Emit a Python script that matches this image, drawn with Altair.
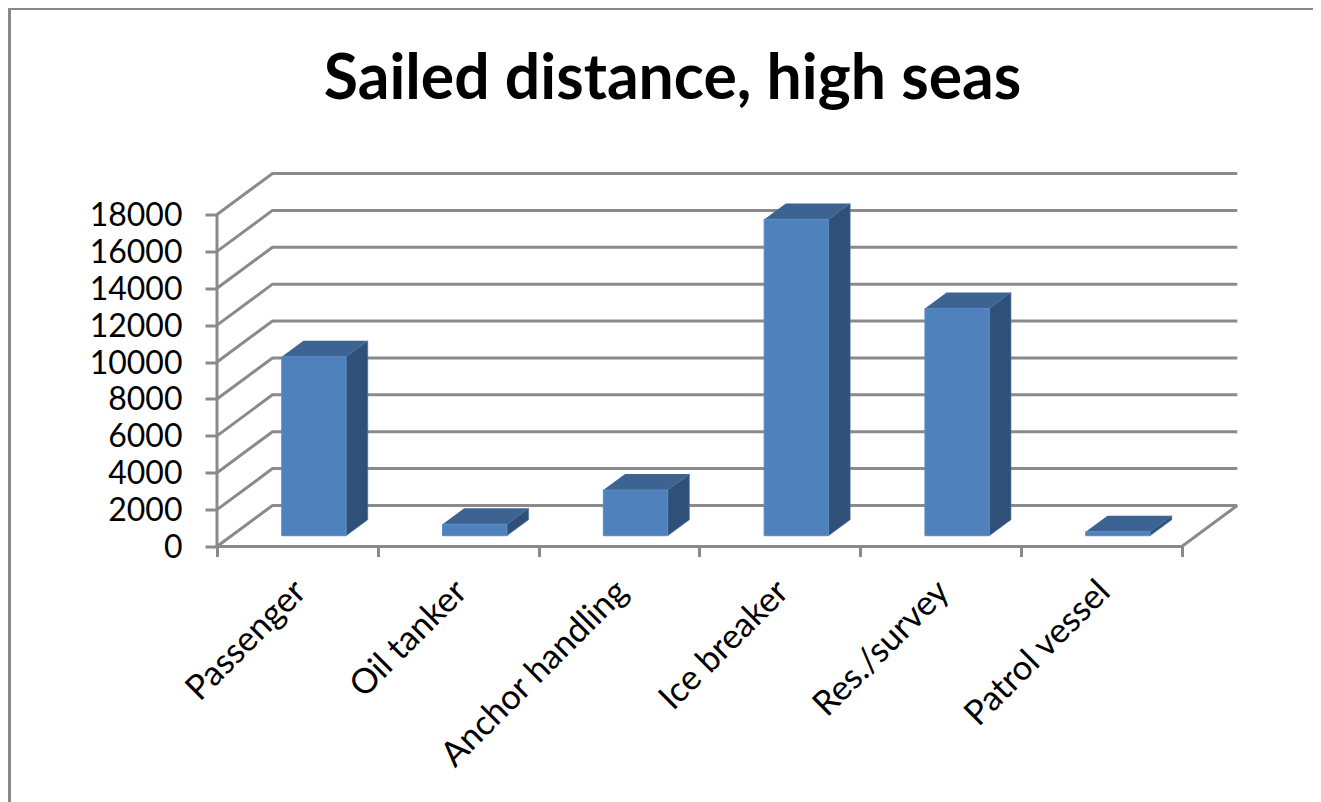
import altair as alt
import pandas as pd

categories = ["Passenger", "Oil tanker", "Anchor handling", "Ice breaker", "Res./survey", "Patrol vessel"]
values = [9700, 620, 2480, 17150, 12320, 220]
y_ticks = list(range(0, 18001, 2000))
x_ticks = list(range(0, 7))

GRID = "#8a8a8a"
FRONT = "#4f81bd"
TOP = "#3c6391"
SIDE = "#2f5179"

# oblique-projection constants, in data units
wall_dx, wall_dy = 0.345, 2223
bar_dx, bar_dy = 0.135, 867
shift_x, shift_y = 0.1026, 585
half_w = 0.2

x_scale = alt.Scale(domain=[0, 6.3495], nice=False, zero=False)
y_scale = alt.Scale(domain=[0, 20711], nice=False, zero=False)

lines = []
for v in y_ticks:
    k = f"g{v}"
    lines += [
        dict(k=k, o=0, x=0, y=v),
        dict(k=k, o=1, x=wall_dx, y=v + wall_dy),
        dict(k=k, o=2, x=6 + wall_dx, y=v + wall_dy),
    ]
lines += [dict(k="floor", o=0, x=0, y=0), dict(k="floor", o=1, x=6, y=0),
          dict(k="floor", o=2, x=6 + wall_dx, y=wall_dy)]
lines += [dict(k="yaxis", o=0, x=0, y=0), dict(k="yaxis", o=1, x=0, y=18000)]
lines_df = pd.DataFrame(lines)

front, side, top = [], [], []
for i, (c, v) in enumerate(zip(categories, values)):
    x0 = i + 0.5 + shift_x - half_w
    x1 = i + 0.5 + shift_x + half_w
    b = shift_y
    t = shift_y + v
    front.append(dict(c=c, x=x0, x2=x1, y=b, y2=t))
    side += [dict(c=c, x=x1, y=b, y2=t), dict(c=c, x=x1 + bar_dx, y=b + bar_dy, y2=t + bar_dy)]
    top += [dict(c=c, x=x0, y=t, y2=t), dict(c=c, x=x0 + bar_dx, y=t + bar_dy, y2=t),
            dict(c=c, x=x1, y=t + bar_dy, y2=t), dict(c=c, x=x1 + bar_dx, y=t + bar_dy, y2=t + bar_dy)]

labels_df = pd.DataFrame({"c": categories, "x": [i + 0.5 for i in range(6)], "y": [0] * 6})

X = alt.X("x:Q", scale=x_scale, title=None)
Y = alt.Y("y:Q", scale=y_scale, title=None)

grid = alt.Chart(lines_df).mark_line(color=GRID, strokeWidth=3, clip=False).encode(
    x=alt.X("x:Q", scale=x_scale, title=None,
            axis=alt.Axis(values=x_ticks, labels=False, domain=False, grid=False, tickSize=10,
                          tickWidth=3, tickColor=GRID)),
    y=alt.Y("y:Q", scale=y_scale, title=None,
            axis=alt.Axis(values=y_ticks, domain=False, grid=False, tickSize=12, tickWidth=3,
                          tickColor=GRID, labelFont="Lato", labelFontSize=32, labelColor="#000000",
                          labelPadding=23, labelOffset=1, format="d")),
    detail="k:N",
    order="o:Q",
)

front_l = alt.Chart(pd.DataFrame(front)).mark_rect(color=FRONT, stroke="#5a8bc6", strokeWidth=1).encode(
    x=X, x2="x2:Q", y=Y, y2="y2:Q")
side_l = alt.Chart(pd.DataFrame(side)).mark_area(color=SIDE, stroke="#4a74a5", strokeWidth=0.6, opacity=1).encode(
    x=X, y=Y, y2="y2:Q", detail="c:N")
top_l = alt.Chart(pd.DataFrame(top)).mark_area(color=TOP, opacity=1).encode(
    x=X, y=Y, y2="y2:Q", detail="c:N")

label_l = alt.Chart(labels_df).mark_text(
    font="Lato", fontSize=34.5, color="#000000", angle=315, align="right", baseline="middle", dx=-26, dy=31
).encode(x=X, y=Y, text="c:N")

frame_top = alt.Chart(pd.DataFrame({"a": [0]})).mark_rule(color="#888888", strokeWidth=3).encode(
    x=alt.value(-209), x2=alt.value(1110), y=alt.value(-156))
frame_left = alt.Chart(pd.DataFrame({"a": [0]})).mark_rule(color="#888888", strokeWidth=3).encode(
    x=alt.value(-207.5), y=alt.value(-156), y2=alt.value(640))

chart = alt.layer(grid, side_l, top_l, front_l, label_l, frame_top, frame_left).properties(
    width=1021,
    height=382,
    background="#ffffff",
    autosize=alt.AutoSizeParams(type="none"),
    padding={"left": 209, "top": 156.5, "right": 75, "bottom": 255.5},
    title=alt.TitleParams("Sailed distance, high seas", font="Lato", fontSize=62.5, fontWeight="bold",
                          color="#000000", anchor="middle", dx=-55, offset=-105),
).configure_view(stroke=None)

chart.save("out.html", embed_options={"renderer": "svg", "actions": False})
